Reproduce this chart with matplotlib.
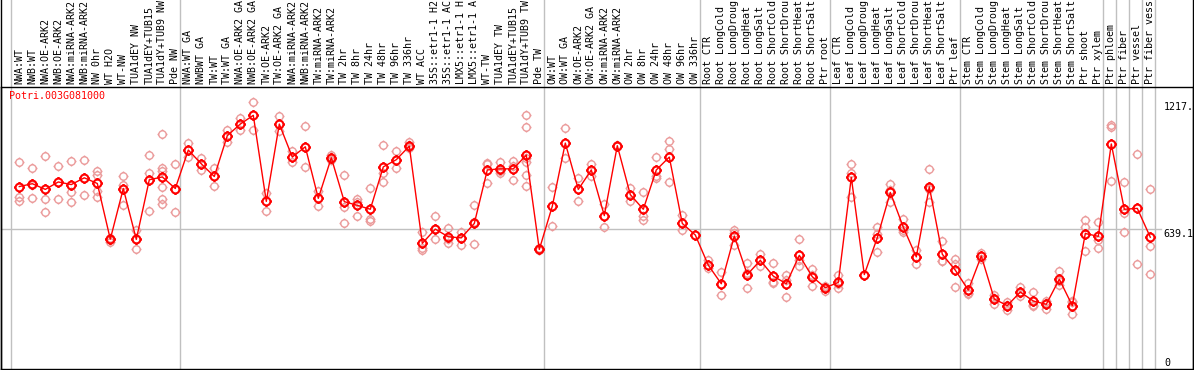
import numpy as np
import matplotlib
matplotlib.use('Agg')
import matplotlib.pyplot as plt
from matplotlib.path import Path
from matplotlib.lines import Line2D
from matplotlib.transforms import blended_transform_factory

# Sample names (truncated to 14 chars like the source)
labels = [
    'NWA:WT', 'NWB:WT', 'NWA:OE-ARK2', 'NWB:OE-ARK2', 'NWA:miRNA-ARK2', 'NWB:miRNA-ARK2',
    'NW 0hr', 'WT H2O', 'WT-NW', 'TUA1dEY NW', 'TUA1dEY+TUB15', 'TUA1dY+TUB9 NW', 'Pde NW',
    'NWA:WT GA', 'NWBWT GA', 'TW:WT', 'TW:WT GA', 'NWA:OE-ARK2 GA', 'NWB:OE-ARK2 GA',
    'TW:OE-ARK2', 'TW:OE-ARK2 GA', 'NWA:miRNA-ARK2', 'NWB:miRNA-ARK2', 'TW:miRNA-ARK2',
    'TW:miRNA-ARK2', 'TW 2hr', 'TW 8hr', 'TW 24hr', 'TW 48hr', 'TW 96hr', 'TW 336hr',
    'WT ACC', '35S::etr1-1 H2', '35S::etr1-1 AC', 'LMX5::etr1-1 H', 'LMX5::etr1-1 A',
    'WT-TW', 'TUA1dEY TW', 'TUA1dEY+TUB15', 'TUA1dY+TUB9 TW', 'Pde TW',
    'OW:WT', 'OW:WT GA', 'OW:OE-ARK2', 'OW:OE-ARK2 GA', 'OW:miRNA-ARK2', 'OW:miRNA-ARK2',
    'OW 2hr', 'OW 8hr', 'OW 24hr', 'OW 48hr', 'OW 96hr', 'OW 336hr',
    'Root CTR', 'Root LongCold', 'Root LongDroug', 'Root LongHeat', 'Root LongSalt',
    'Root ShortCold', 'Root ShortDrou', 'Root ShortHeat', 'Root ShortSalt', 'Ptr root',
    'Leaf CTR', 'Leaf LongCold', 'Leaf LongDroug', 'Leaf LongHeat', 'Leaf LongSalt',
    'Leaf ShortCold', 'Leaf ShortDrou', 'Leaf ShortHeat', 'Leaf ShortSalt', 'Ptr leaf',
    'Stem CTR', 'Stem LongCold', 'Stem LongDroug', 'Stem LongHeat', 'Stem LongSalt',
    'Stem ShortCold', 'Stem ShortDrou', 'Stem ShortHeat', 'Stem ShortSalt', 'Ptr shoot',
    'Ptr xylem', 'Ptr phloem', 'Ptr fiber', 'Ptr vessel', 'Ptr fiber vess',
]

# group separators (index of first sample in each block)
group_starts = [0, 13, 41, 53, 63, 73, 84, 85, 86, 87, 88]

means = [
    832, 845, 819, 853, 841, 872, 846, 591, 823, 590, 863, 876, 823,
    999, 936, 878, 1065, 1118, 1158, 764, 1118, 967, 1014, 778, 964, 763, 746, 728,
    922, 955, 1017, 572, 637, 602, 597, 663, 908, 913, 913, 976, 544,
    742, 1031, 819, 908, 699, 1019, 795, 728, 908, 967, 663, 610,
    472, 387, 605, 429, 494, 422, 387, 517, 419, 369,
    393, 874, 429, 598, 805, 646, 510, 831, 522, 449,
    358, 514, 317, 287, 349, 308, 293, 408, 287, 617, 604,
    1027, 728, 732, 600,
]

reps = [
    [946, 782, 764], [917, 837, 781], [970, 776, 714], [928, 777], [951, 805, 763],
    [954, 795], [905, 886, 813, 785], [597, 587, 579], [878, 840, 749], [631, 590, 545],
    [977, 893, 722], [1074, 916, 905, 831, 775, 754], [933, 714],
    [1030, 969], [961, 908], [919, 836], [1093, 1034], [1146, 1090], [1217, 1090],
    [802, 722], [1155, 1086], [995, 943], [1108, 922], [810, 745], [977, 969, 954],
    [886, 737, 663], [775, 760, 699], [825, 684, 672], [1022, 893, 854], [995, 916],
    [1037, 1022, 1007], [623, 552, 542], [699, 636, 590], [641, 590, 575], [625, 563],
    [749, 567, 670], [942, 936, 849], [946, 901, 893], [949, 863, 927],
    [1158, 1104, 961, 946, 885, 836], [552, 540, 541],
    [831, 651], [1099, 964], [873, 764], [937, 879], [754, 649], [1022, 1017],
    [825, 767], [805, 696, 681], [968, 878, 870], [1040, 1004, 854], [704, 631], [],
    [496, 457], [441, 337], [631, 564, 620], [481, 369, 438], [521, 466],
    [481, 393, 391], [428, 328, 405], [590, 466, 496], [453, 376, 426], [376, 355, 373],
    [426, 367, 385], [937, 896, 782], [], [646, 531, 616], [842, 760, 814],
    [684, 622, 632], [540, 478, 511], [913, 761, 819], [581, 491, 493], [502, 372, 476],
    [391, 340, 344], [529, 499], [337, 294, 320], [302, 267, 290], [370, 332, 344],
    [350, 285, 288], [297, 270, 309], [444, 379, 400], [305, 249, 306], [678, 649, 537],
    [669, 585, 549], [1113, 1106, 858], [851, 713, 623], [983, 478], [819, 558, 432],
]

gene = 'Potri.003G081000'
y_top_label = '1217.'
y_mid = 639.1

W, H = 1194, 370
top_px, bot_px, left_px, right_px = 86.5, 368.5, 0.5, 1192.5
x0_px, step_px = 19.3, 13.0

mono = 'DejaVu Sans Mono'
fs = 7.2

fig = plt.figure(figsize=(W / 100, H / 100), dpi=100)
ax = fig.add_axes([left_px / W, (H - bot_px) / H, (right_px - left_px) / W, (bot_px - top_px) / H])
ax.set_xlim((left_px - x0_px) / step_px, (right_px - x0_px) / step_px)
ax.set_ylim(-1, 1290)
ax.set_xticks([])
ax.set_yticks([])
for s in ax.spines.values():
    s.set_color('black')
    s.set_linewidth(1)

# marker: circle with four small stubs
stub = 1.35
marker = Path.make_compound_path(
    Path.unit_circle(),
    Path([(0, 1), (0, stub)], [Path.MOVETO, Path.LINETO]),
    Path([(0, -1), (0, -stub)], [Path.MOVETO, Path.LINETO]),
    Path([(1, 0), (stub, 0)], [Path.MOVETO, Path.LINETO]),
    Path([(-1, 0), (-stub, 0)], [Path.MOVETO, Path.LINETO]),
)

n = len(labels)
xs = np.arange(n)

# separators
upper = (bot_px - 0) / (bot_px - top_px)
for g in group_starts:
    ax.axvline(g - 8.3 / step_px, 0, upper, color='#c0c0c0', lw=1, clip_on=False, zorder=0)
ax.axhline(y_mid, 0, (1161 - left_px) / (right_px - left_px), color='#c0c0c0', lw=1, zorder=0)

# replicates
for i, r in enumerate(reps):
    if r:
        ax.plot([i] * len(r), r, linestyle='none', marker=marker, markersize=7.2,
                markerfacecolor='none', markeredgecolor='#eb9b9b', markeredgewidth=1, zorder=2)

# means
ax.plot(xs, means, color='red', lw=1, zorder=3)
ax.plot(xs, means, linestyle='none', marker=marker, markersize=7.6,
        markerfacecolor='none', markeredgecolor='red', markeredgewidth=1.5, zorder=4)

# column labels above the plot
tr = blended_transform_factory(ax.transData, ax.transAxes)
lab_y = 1 + (top_px - 84) / (bot_px - top_px)
for i, lab in enumerate(labels):
    ax.text(i, lab_y, lab, transform=tr, rotation=90, ha='center', va='bottom',
            family=mono, fontsize=fs, clip_on=False)

# outer frame lines spanning full height
for xp in (left_px, right_px):
    fig.add_artist(Line2D([xp / W, xp / W], [0, 1], transform=fig.transFigure, color='black', lw=1))

fig.text(9 / W, 1 - 91 / H, gene, color='red', ha='left', va='top', family=mono, fontsize=fs)

xl = (1164 - x0_px) / step_px
ax.text(xl, float(y_top_label.rstrip('.')), y_top_label, ha='left', va='top', family=mono, fontsize=fs, clip_on=False)
ax.text(xl - 1 / step_px, y_mid, str(y_mid), ha='left', va='top', family=mono, fontsize=fs, clip_on=False)
ax.text(xl, 0, '0', ha='left', va='bottom', family=mono, fontsize=fs, clip_on=False)

fig.savefig('out.png', dpi=100, facecolor='white')
